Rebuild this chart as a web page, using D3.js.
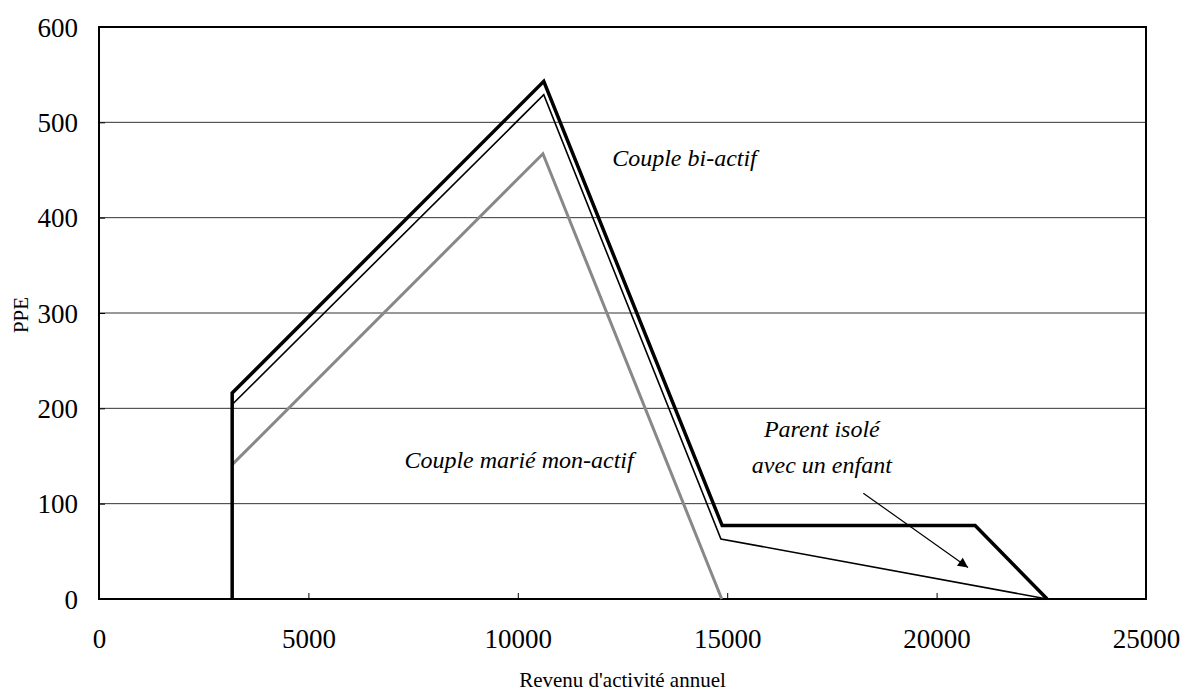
<!DOCTYPE html>
<html>
<head>
<meta charset="utf-8">
<script src="https://cdn.jsdelivr.net/npm/d3@7"></script>
<style>
  body { margin: 0; background: #fff; }
  svg text { font-family: "Liberation Serif", "Times New Roman", serif; fill: #000; }
</style>
</head>
<body>
<svg id="chart" width="1184" height="695"></svg>
<script>
// données (revenu, PPE)
var xTicks = [0, 5000, 10000, 15000, 20000, 25000];
var yTicks = [0, 100, 200, 300, 400, 500, 600];

var biActif = [[3180, 0], [3180, 216], [10620, 543], [14880, 77], [20920, 77], [22640, 0]];
var parentIsole = [[3180, 204], [10620, 529], [14850, 63], [22640, 0]];
var monActif = [[3180, 141], [10600, 467], [14870, 0]];

var labels = [
    { text: "Couple bi-actif", x: 13980, y: 454 },
    { text: "Couple marié mon-actif", x: 10030, y: 137 },
    { text: "Parent isolé", x: 17260, y: 170 },
    { text: "avec un enfant", x: 17260, y: 132 }
];
var arrow = [[18250, 111], [20750, 33]];

var margin = { top: 27, right: 38, bottom: 96, left: 99 };
var width = 1184 - margin.left - margin.right,
    height = 695 - margin.top - margin.bottom;

var svg = d3.select('#chart');
var g = svg.append('g').attr('transform', 'translate(' + margin.left + ',' + margin.top + ')');

var x = d3.scaleLinear().domain([0, 25000]).range([0, width]);
var y = d3.scaleLinear().domain([0, 600]).range([height, 0]);

// grille horizontale
g.selectAll('.grid').data(yTicks.filter(d => d > 0 && d < 600))
    .enter().append('line')
    .attr('x1', 0).attr('x2', width)
    .attr('y1', d => y(d)).attr('y2', d => y(d))
    .attr('stroke', '#333').attr('stroke-width', 1);

// axes avec graduations vers l'intérieur
var xAxis = g.append('g').attr('transform', 'translate(0,' + height + ')')
    .call(d3.axisBottom(x).tickValues(xTicks).tickSizeInner(-6).tickSizeOuter(0).tickPadding(30).tickFormat(d3.format('d')));
var yAxis = g.append('g')
    .call(d3.axisLeft(y).tickValues(yTicks).tickSizeInner(-6).tickSizeOuter(0).tickPadding(21).tickFormat(d3.format('d')));

[xAxis, yAxis].forEach(a => {
    a.attr('font-family', null).attr('font-size', null);
    a.select('.domain').remove();
    a.selectAll('line').attr('stroke', '#000');
    a.selectAll('text').style('font-size', '27px').attr('fill', '#000');
});
yAxis.selectAll('text').attr('dy', '0.34em');

// cadre
g.append('rect').attr('x', 0).attr('y', 0).attr('width', width).attr('height', height)
    .attr('fill', 'none').attr('stroke', '#000').attr('stroke-width', 2);

var line = d3.line().x(d => x(d[0])).y(d => y(d[1]));

g.append('path').datum(monActif).attr('d', line)
    .attr('fill', 'none').attr('stroke', '#888').attr('stroke-width', 3);
g.append('path').datum(parentIsole).attr('d', line)
    .attr('fill', 'none').attr('stroke', '#000').attr('stroke-width', 1.6);
g.append('path').datum(biActif).attr('d', line)
    .attr('fill', 'none').attr('stroke', '#000').attr('stroke-width', 3.5)
    .attr('stroke-linejoin', 'miter');

// étiquettes
g.selectAll('.lbl').data(labels).enter().append('text')
    .attr('x', d => x(d.x)).attr('y', d => y(d.y))
    .attr('text-anchor', 'middle')
    .style('font-size', '24px').style('font-style', 'italic')
    .text(d => d.text);

// flèche
svg.append('defs').append('marker')
    .attr('id', 'arrowhead').attr('viewBox', '0 0 10 10')
    .attr('refX', 10).attr('refY', 5)
    .attr('markerWidth', 14).attr('markerHeight', 10)
    .attr('markerUnits', 'userSpaceOnUse')
    .attr('orient', 'auto')
    .append('path').attr('d', 'M0,0 L10,5 L0,10 z').attr('fill', '#000');

g.append('line')
    .attr('x1', x(arrow[0][0])).attr('y1', y(arrow[0][1]))
    .attr('x2', x(arrow[1][0])).attr('y2', y(arrow[1][1]))
    .attr('stroke', '#000').attr('stroke-width', 1.2)
    .attr('marker-end', 'url(#arrowhead)');

// titres des axes
svg.append('text')
    .attr('x', margin.left + width / 2).attr('y', 687)
    .attr('text-anchor', 'middle').style('font-size', '21px')
    .text("Revenu d'activité annuel");
svg.append('text')
    .attr('transform', 'translate(28,315) rotate(-90)')
    .attr('text-anchor', 'middle').style('font-size', '21px')
    .text('PPE');
</script>
</body>
</html>
